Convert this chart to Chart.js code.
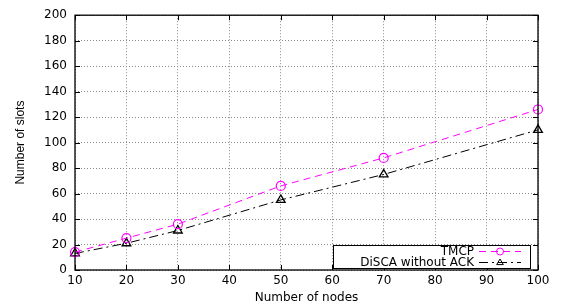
<!DOCTYPE html>
<html>
<head>
<meta charset="utf-8">
<script src="https://cdn.jsdelivr.net/npm/chart.js@4"></script>
<style>
  html, body { margin: 0; padding: 0; background: #fff; }
  #wrap { width: 569px; height: 305px; }
</style>
</head>
<body>
<div id="wrap"><canvas id="slotsChart"></canvas></div>
<script>
// values
var nodes = [10, 20, 30, 50, 70, 100];
var tmcpSlots = [14, 25, 36, 66, 88, 126];
var discaSlots = [13, 21, 31, 55, 75, 110];
var seriesNames = ["TMCP", "DiSCA without ACK"];

var tickFont = { family: "DejaVu Sans", size: 12 };

function toPoints(xs, ys) {
    return xs.map(function (x, i) { return { x: x, y: ys[i] }; });
}

function drawMarker(ctx, style, x, y, r) {
    ctx.beginPath();
    if (style === "circle") {
        ctx.arc(x, y, r, 0, Math.PI * 2);
    } else {
        ctx.moveTo(x, y - r);
        ctx.lineTo(x + r * 0.95, y + r * 0.6);
        ctx.lineTo(x - r * 0.95, y + r * 0.6);
        ctx.closePath();
    }
    ctx.stroke();
}

// frame, inward ticks and the boxed key in the lower right (gnuplot style)
var framePlugin = {
    id: "frame",
    afterDraw: function (chart) {
        var ctx = chart.ctx;
        var a = chart.chartArea;
        var xs = chart.scales.x, ys = chart.scales.y;
        ctx.save();
        ctx.strokeStyle = "#000";
        ctx.lineWidth = 1;
        xs.ticks.forEach(function (t) {
            var px = Math.round(xs.getPixelForValue(t.value)) + 0.5;
            ctx.beginPath();
            ctx.moveTo(px, a.bottom); ctx.lineTo(px, a.bottom - 5);
            ctx.moveTo(px, a.top); ctx.lineTo(px, a.top + 5);
            ctx.stroke();
        });
        ys.ticks.forEach(function (t) {
            var py = Math.round(ys.getPixelForValue(t.value)) + 0.5;
            ctx.beginPath();
            ctx.moveTo(a.left, py); ctx.lineTo(a.left + 5, py);
            ctx.moveTo(a.right, py); ctx.lineTo(a.right - 5, py);
            ctx.stroke();
        });

        // key
        var bx = 333, by = a.bottom - 25, bw = a.right - 8 - bx, bh = 23;
        ctx.fillStyle = "#fff";
        ctx.fillRect(bx, by, bw, bh);
        ctx.strokeRect(bx + 0.5, by + 0.5, bw, bh);
        ctx.font = "12px 'DejaVu Sans'";
        ctx.textAlign = "right";
        ctx.textBaseline = "middle";
        chart.data.datasets.forEach(function (ds, i) {
            var cy = by + 6.5 + i * 11;
            ctx.fillStyle = "#000";
            ctx.fillText(ds.label, bx + 141, cy);
            ctx.strokeStyle = ds.borderColor;
            ctx.lineWidth = 1;
            ctx.setLineDash(ds.borderDash);
            ctx.beginPath();
            ctx.moveTo(bx + 146, cy);
            ctx.lineTo(bx + 188, cy);
            ctx.stroke();
            ctx.setLineDash([]);
            drawMarker(ctx, ds.pointStyle, bx + 167, cy, 3.5);
        });
        ctx.lineWidth = 1.3;
        ctx.strokeStyle = "#000";
        ctx.strokeRect(a.left, a.top, a.right - a.left, a.bottom - a.top);
        ctx.restore();
    }
};

var config = {
    type: "line",
    data: {
        datasets: [{
            label: seriesNames[0],
            data: toPoints(nodes, tmcpSlots),
            borderColor: "#ff00ff",
            borderWidth: 1,
            borderDash: [7, 5],
            pointStyle: "circle",
            pointRadius: 4.5,
            pointBorderWidth: 1.2,
            pointBorderColor: "#ff00ff",
            pointBackgroundColor: "rgba(0,0,0,0)",
            fill: false,
            clip: false
        }, {
            label: seriesNames[1],
            data: toPoints(nodes, discaSlots),
            borderColor: "#000000",
            borderWidth: 1,
            borderDash: [9, 4, 2, 4],
            pointStyle: "triangle",
            pointRadius: 5,
            pointBorderWidth: 1.3,
            pointBorderColor: "#000",
            pointBackgroundColor: "rgba(0,0,0,0)",
            fill: false,
            clip: false
        }]
    },
    options: {
        responsive: false,
        animation: false,
        devicePixelRatio: 1,
        layout: { padding: { top: 13, right: 31, left: 0, bottom: 0 } },
        plugins: {
            legend: { display: false },
            tooltip: { enabled: false }
        },
        scales: {
            x: {
                type: "linear",
                min: 10,
                max: 100,
                ticks: { stepSize: 10, font: tickFont, color: "#000", padding: 4 },
                grid: { color: "#8a8a8a", lineWidth: 1, drawTicks: false },
                border: { display: false, dash: [1, 2] },
                title: {
                    display: true,
                    text: "Number of nodes",
                    font: { family: "DejaVu Sans", size: 12 },
                    color: "#000",
                    padding: { top: 0, bottom: 0 }
                },
                afterFit: function (s) { s.height = 35; }
            },
            y: {
                min: 0,
                max: 200,
                ticks: { stepSize: 20, font: tickFont, color: "#000", padding: 8 },
                grid: { color: "#8a8a8a", lineWidth: 1, drawTicks: false },
                border: { display: false, dash: [1, 2] },
                title: {
                    display: true,
                    text: "Number of slots",
                    font: { family: "Liberation Sans", size: 12 },
                    color: "#000",
                    padding: { top: 13, bottom: 0 }
                },
                afterFit: function (s) { s.width = 75; }
            }
        }
    },
    plugins: [framePlugin]
};

var canvasElement = document.getElementById("slotsChart");
canvasElement.width = 569;
canvasElement.height = 305;
var slotsChart = new Chart(canvasElement, config);
</script>
</body>
</html>
